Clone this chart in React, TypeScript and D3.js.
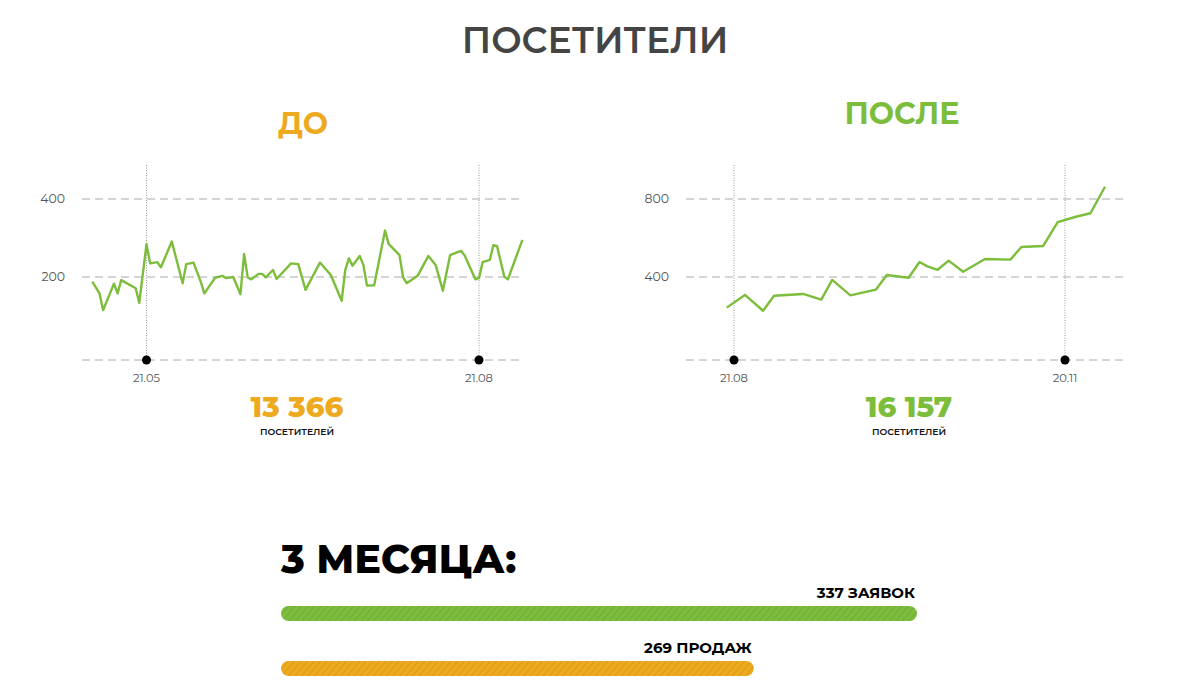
import React from 'react';
import * as d3 from 'd3';

// ---------- DATA ----------
const TITLE = 'ПОСЕТИТЕЛИ';
const YEAR = '2019';

const BEFORE_DATES = [
  '06.05', '08.05', '09.05', '12.05', '13.05', '14.05', '18.05', '19.05', '21.05', '22.05',
  '24.05', '25.05', '28.05', '31.05', '01.06', '03.06', '05.06', '06.06', '09.06', '11.06',
  '12.06', '14.06', '16.06', '17.06', '18.06', '19.06', '21.06', '22.06', '23.06', '25.06',
  '26.06', '30.06', '02.07', '04.07', '08.07', '11.07', '14.07', '15.07', '16.07', '17.07',
  '19.07', '20.07', '21.07', '23.07', '26.07', '27.07', '30.07', '31.07', '01.08', '04.08',
  '07.08', '09.08', '11.08', '13.08', '16.08', '17.08', '20.08', '21.08', '22.08', '24.08',
  '25.08', '26.08', '28.08', '29.08', '02.09',
];
const BEFORE_VALUES = [
  188, 158, 115, 183, 158, 192, 171, 134, 284, 235,
  238, 225, 291, 184, 233, 237, 188, 158, 198, 203,
  197, 200, 156, 259, 199, 194, 208, 208, 199, 218,
  195, 235, 233, 167, 237, 205, 139, 218, 248, 229,
  254, 231, 178, 179, 319, 285, 256, 199, 184, 203,
  254, 231, 165, 256, 267, 256, 194, 197, 238, 244,
  282, 279, 201, 194, 295,
];
const BEFORE_TICKS = [200, 400];
const BEFORE_MARKS = ['21.05', '21.08'];
const BEFORE_TOTAL = '13 366';

const AFTER_DATES = [
  '19.08', '24.08', '29.08', '01.09', '09.09', '14.09', '17.09', '22.09', '29.09', '02.10',
  '08.10', '11.10', '13.10', '16.10', '19.10', '23.10', '29.10', '05.11', '08.11', '14.11',
  '18.11', '23.11', '27.11', '01.12',
];
const AFTER_VALUES = [
  243, 308, 227, 304, 313, 284, 385, 306, 335, 410,
  396, 477, 456, 437, 484, 427, 492, 489, 554, 559,
  681, 709, 727, 863,
];
const AFTER_TICKS = [400, 800];
const AFTER_MARKS = ['21.08', '20.11'];
const AFTER_TOTAL = '16 157';

const UNIT_LABEL = 'ПОСЕТИТЕЛЕЙ';
const SUMMARY_TITLE = '3 МЕСЯЦА:';
const BAR_LABELS = ['337 ЗАЯВОК', '269 ПРОДАЖ'];
const BAR_VALUES = [337, 269];
const BAR_DOMAIN_MIN = 72;

// ---------- STYLE ----------
const GREEN = '#7cbd3c';
const ORANGE = '#eeaa1e';
const FONT = "'Montserrat', 'DejaVu Sans', sans-serif";

const parse = d3.timeParse('%d.%m.%Y');
const toDate = (s: string) => parse(`${s}.${YEAR}`) as Date;

type PanelProps = {
  label: string;
  labelColor: string;
  labelX: number;
  labelY: number;
  dates: string[];
  values: number[];
  ticks: number[];
  marks: string[];
  markX: [number, number];
  gridX: [number, number];
  yMax: number;
  total: string;
  totalX: number;
};

function Panel(p: PanelProps) {
  const x = d3
    .scaleTime()
    .domain([toDate(p.marks[0]), toDate(p.marks[1])])
    .range(p.markX);
  const y = d3.scaleLinear().domain([0, p.yMax]).range([355, 199]);
  const baseY = 360;
  const line = d3
    .line<number>()
    .x((_, i) => x(toDate(p.dates[i])))
    .y((d) => y(d));
  return (
    <g>
      <text
        x={p.labelX}
        y={p.labelY}
        textAnchor="middle"
        fontFamily={FONT}
        fontWeight={700}
        fontSize={30}
        fill={p.labelColor}
      >
        {p.label}
      </text>
      {p.ticks.map((t) => (
        <g key={t}>
          <line
            x1={p.gridX[0]}
            x2={p.gridX[1]}
            y1={y(t)}
            y2={y(t)}
            stroke="#aaaaaa"
            strokeWidth={1}
            strokeDasharray="8,5"
          />
          <text
            x={p.gridX[0] - 17}
            y={y(t)}
            dy="0.35em"
            textAnchor="end"
            fontFamily={FONT}
            fontSize={12.5}
            fill="#555"
          >
            {t}
          </text>
        </g>
      ))}
      <line
        x1={p.gridX[0]}
        x2={p.gridX[1]}
        y1={baseY}
        y2={baseY}
        stroke="#aaaaaa"
        strokeWidth={1}
        strokeDasharray="8,5"
      />
      {p.marks.map((m) => (
        <g key={m}>
          <line
            x1={x(toDate(m))}
            x2={x(toDate(m))}
            y1={165}
            y2={baseY}
            stroke="#9a9a9a"
            strokeWidth={1}
            strokeDasharray="1,1.5"
          />
        </g>
      ))}
      <path d={line(p.values) || ''} fill="none" stroke={GREEN} strokeWidth={2.4} strokeLinejoin="round" />
      {p.marks.map((m) => (
        <g key={'d' + m}>
          <circle cx={x(toDate(m))} cy={baseY} r={4.5} fill="#000" />
          <text
            x={x(toDate(m))}
            y={382}
            textAnchor="middle"
            fontFamily={FONT}
            fontSize={11.5}
            fill="#555"
          >
            {m}
          </text>
        </g>
      ))}
      <text
        x={p.totalX}
        y={417}
        textAnchor="middle"
        fontFamily={FONT}
        fontWeight={800}
        fontSize={29}
        fill={p.labelColor}
      >
        {p.total}
      </text>
      <text
        x={p.totalX}
        y={434.5}
        textAnchor="middle"
        fontFamily={FONT}
        fontWeight={600}
        fontSize={9.2}
        fill="#111"
      >
        {UNIT_LABEL}
      </text>
    </g>
  );
}

export default function App() {
  const bx = d3.scaleLinear().domain([BAR_DOMAIN_MIN, BAR_VALUES[0]]).range([281, 917]);
  const barColors = [GREEN, ORANGE];
  const barY = [606, 661];
  return (
    <svg
      width={1200}
      height={694}
      viewBox="0 0 1200 694"
      style={{ position: 'absolute', left: 0, top: 0, background: '#fff' }}
    >
      <defs>
        <pattern
          id="hatch"
          width={5}
          height={5}
          patternUnits="userSpaceOnUse"
          patternTransform="rotate(40)"
        >
          <line x1={0} y1={0} x2={0} y2={5} stroke="rgba(0,0,0,0.13)" strokeWidth={1.4} />
        </pattern>
      </defs>
      <rect x={0} y={0} width={1200} height={694} fill="#fff" />
      <text
        x={595}
        y={53}
        textAnchor="middle"
        fontFamily={FONT}
        fontWeight={600}
        fontSize={36}
        fill="#444"
      >
        {TITLE}
      </text>
      <Panel
        label="ДО"
        labelColor={ORANGE}
        labelX={303}
        labelY={134}
        dates={BEFORE_DATES}
        values={BEFORE_VALUES}
        ticks={BEFORE_TICKS}
        marks={BEFORE_MARKS}
        markX={[146.5, 479]}
        gridX={[82, 524]}
        yMax={400}
        total={BEFORE_TOTAL}
        totalX={297}
      />
      <Panel
        label="ПОСЛЕ"
        labelColor={GREEN}
        labelX={902}
        labelY={124}
        dates={AFTER_DATES}
        values={AFTER_VALUES}
        ticks={AFTER_TICKS}
        marks={AFTER_MARKS}
        markX={[734, 1065]}
        gridX={[686, 1128]}
        yMax={800}
        total={AFTER_TOTAL}
        totalX={909}
      />
      <text x={281} y={573} fontFamily={FONT} fontWeight={800} fontSize={39.5} fill="#000">
        {SUMMARY_TITLE}
      </text>
      {BAR_VALUES.map((v, i) => {
        const w = bx(v) - bx.range()[0];
        return (
          <g key={i}>
            <rect x={281} y={barY[i]} width={w} height={15} rx={7.5} fill={barColors[i]} />
            <rect x={281} y={barY[i]} width={w} height={15} rx={7.5} fill="url(#hatch)" />
            <text
              x={bx(v) - 2}
              y={barY[i] - 8.5}
              textAnchor="end"
              fontFamily={FONT}
              fontWeight={700}
              fontSize={15}
              fill="#000"
            >
              {BAR_LABELS[i]}
            </text>
          </g>
        );
      })}
    </svg>
  );
}
